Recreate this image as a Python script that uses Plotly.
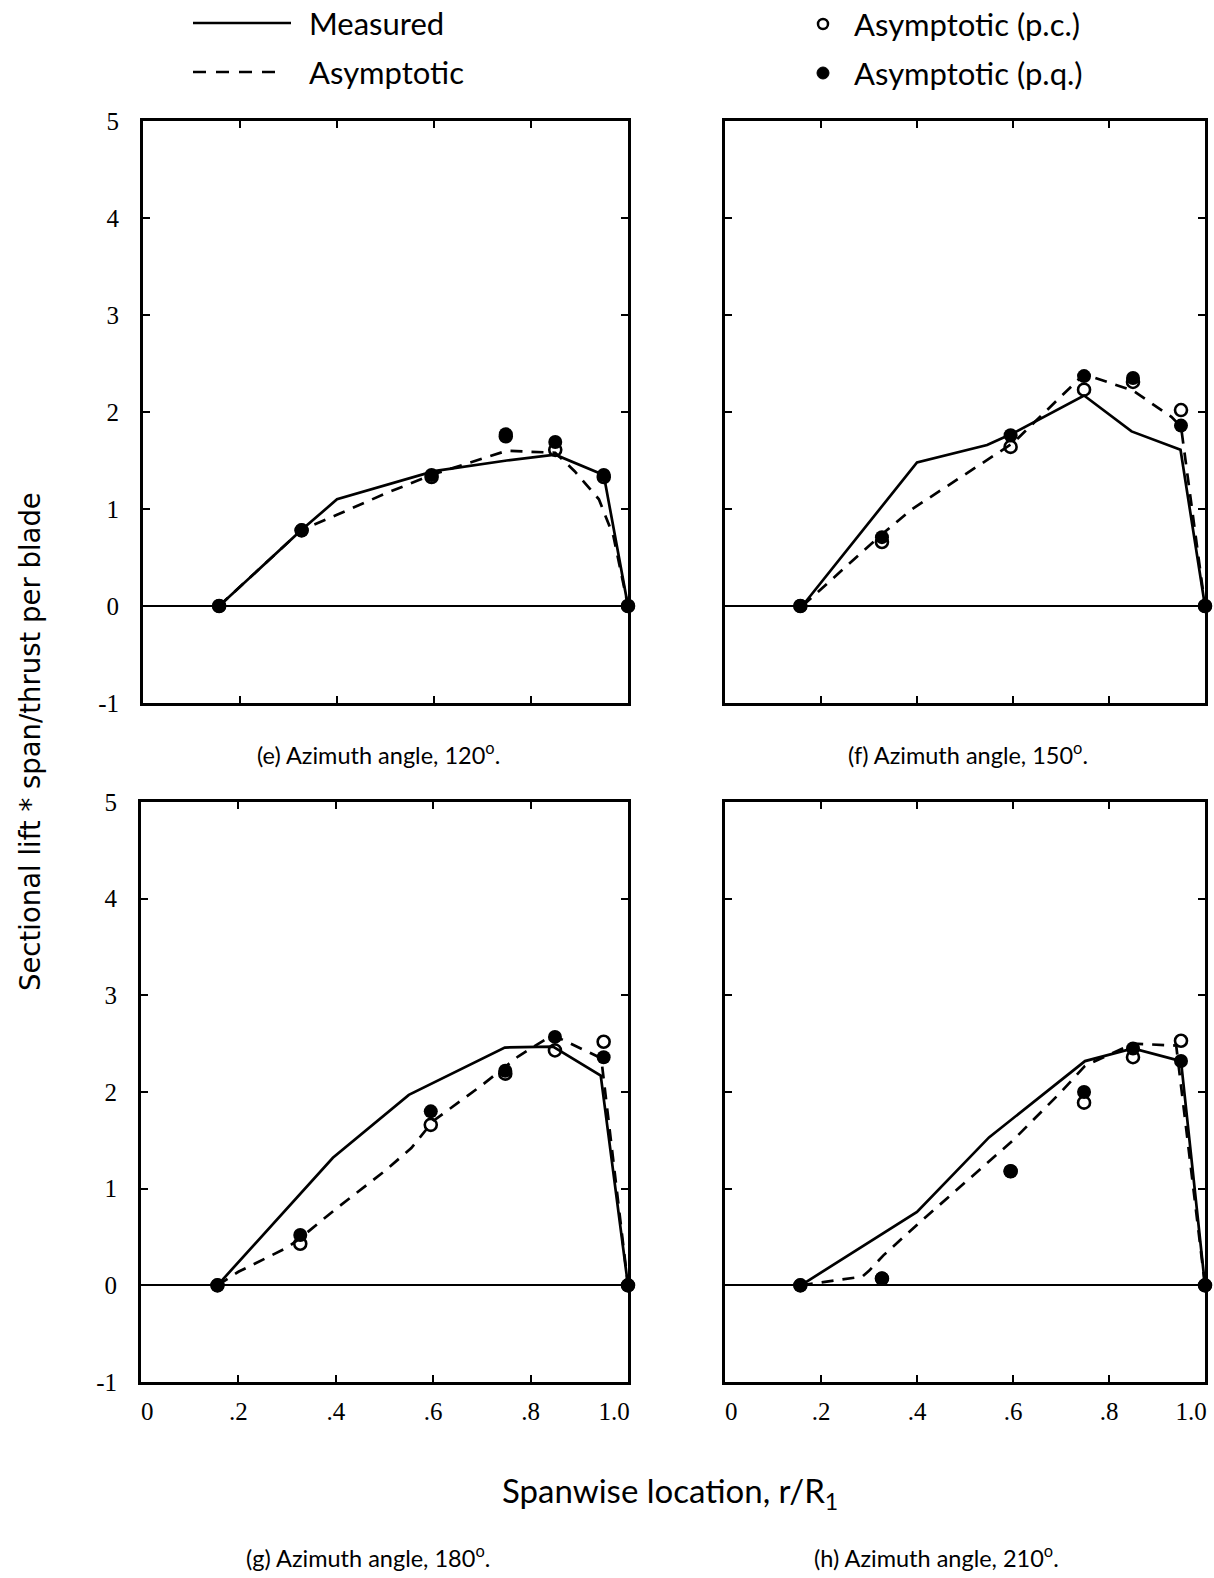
import plotly.graph_objects as go

W, H = 1214, 1578

# ---------------- data ----------------
stations = [0.157, 0.327, 0.595, 0.748, 0.850, 0.950, 1.0]

# (e) azimuth 120 deg
meas_x_120 = [0.157, 0.326, 0.40, 0.60, 0.75, 0.85, 0.95, 1.0]
meas_y_120 = [0.0, 0.78, 1.10, 1.39, 1.50, 1.56, 1.35, 0.0]
asym_x_120 = [0.157, 0.326, 0.40, 0.50, 0.60, 0.75, 0.85, 0.89, 0.94, 0.97, 1.0]
asym_y_120 = [0.0, 0.78, 0.94, 1.16, 1.36, 1.60, 1.58, 1.39, 1.10, 0.72, 0.0]
pc_y_120 = [0.0, 0.78, 1.33, 1.75, 1.61, 1.33, 0.0]
pq_y_120 = [0.0, 0.78, 1.35, 1.77, 1.69, 1.35, 0.0]

# (f) azimuth 150 deg
meas_x_150 = [0.161, 0.40, 0.546, 0.60, 0.748, 0.847, 0.949, 1.0]
meas_y_150 = [0.0, 1.48, 1.66, 1.78, 2.17, 1.80, 1.61, 0.0]
asym_x_150 = [0.161, 0.327, 0.39, 0.52, 0.60, 0.748, 0.85, 0.93, 0.95, 1.0]
asym_y_150 = [0.0, 0.74, 1.00, 1.42, 1.68, 2.39, 2.22, 1.95, 1.85, 0.0]
pc_y_150 = [0.0, 0.66, 1.64, 2.23, 2.31, 2.02, 0.0]
pq_y_150 = [0.0, 0.71, 1.76, 2.37, 2.35, 1.86, 0.0]

# (g) azimuth 180 deg
meas_x_180 = [0.157, 0.394, 0.55, 0.747, 0.846, 0.944, 1.0]
meas_y_180 = [0.0, 1.32, 1.97, 2.46, 2.47, 2.17, 0.0]
asym_x_180 = [0.157, 0.20, 0.30, 0.33, 0.40, 0.50, 0.555, 0.60, 0.70, 0.775, 0.845, 0.945, 1.0]
asym_y_180 = [0.0, 0.14, 0.39, 0.50, 0.79, 1.18, 1.42, 1.70, 2.07, 2.37, 2.59, 2.35, 0.0]
pc_y_180 = [0.0, 0.43, 1.66, 2.19, 2.43, 2.52, 0.0]
pq_y_180 = [0.0, 0.52, 1.80, 2.22, 2.57, 2.36, 0.0]

# (h) azimuth 210 deg
meas_x_210 = [0.158, 0.40, 0.55, 0.75, 0.85, 0.95, 1.0]
meas_y_210 = [0.0, 0.76, 1.53, 2.32, 2.45, 2.32, 0.0]
asym_x_210 = [0.158, 0.20, 0.286, 0.30, 0.33, 0.41, 0.50, 0.60, 0.70, 0.75, 0.85, 0.94, 1.0]
asym_y_210 = [0.0, 0.03, 0.09, 0.15, 0.31, 0.67, 1.06, 1.50, 2.00, 2.27, 2.50, 2.48, 0.0]
pc_y_210 = [0.0, 0.07, 1.18, 1.89, 2.36, 2.53, 0.0]
pq_y_210 = [0.0, 0.07, 1.18, 2.00, 2.45, 2.32, 0.0]

x_tickvals = [0, 0.2, 0.4, 0.6, 0.8, 1.0]
x_ticktext = ["\u00a0\u00a00", ".2", ".4", ".6", ".8", ""]
x_end_tickvals = [1.0]
x_end_ticktext = ["1.0"]
y_tickvals = [-1, 0, 1, 2, 3, 4, 5]
y_ticktext = ["-1", "0", "1", "2", "3", "4", "5"]

captions = ["(e) Azimuth angle, 120<sup>o</sup>.",
            "(f) Azimuth angle, 150<sup>o</sup>.",
            "(g) Azimuth angle, 180<sup>o</sup>.",
            "(h) Azimuth angle, 210<sup>o</sup>."]

# ---------------- layout helpers ----------------
def px(p):
    return p / W

def py(p):
    return 1 - p / H

TEXT_FONT = "Lato, sans-serif"
TICK_FONT = dict(family="Liberation Serif, serif", size=25, color="black")

panels = [
    dict(mx=meas_x_120, my=meas_y_120, ax=asym_x_120, ay=asym_y_120, pc=pc_y_120, pq=pq_y_120,
         xd=(143, 628), yd=(121, 703), xlab=False, ylab=True),
    dict(mx=meas_x_150, my=meas_y_150, ax=asym_x_150, ay=asym_y_150, pc=pc_y_150, pq=pq_y_150,
         xd=(725, 1205), yd=(121, 703), xlab=False, ylab=False),
    dict(mx=meas_x_180, my=meas_y_180, ax=asym_x_180, ay=asym_y_180, pc=pc_y_180, pq=pq_y_180,
         xd=(141, 628), yd=(802, 1382), xlab=True, ylab=True),
    dict(mx=meas_x_210, my=meas_y_210, ax=asym_x_210, ay=asym_y_210, pc=pc_y_210, pq=pq_y_210,
         xd=(725, 1205), yd=(802, 1382), xlab=True, ylab=False),
]

fig = go.Figure()
layout = {}

for i, p in enumerate(panels, start=1):
    xa = "x" if i == 1 else f"x{i}"
    ya = "y" if i == 1 else f"y{i}"
    fig.add_trace(go.Scatter(x=p["mx"], y=p["my"], mode="lines", xaxis=xa, yaxis=ya,
                             line=dict(color="black", width=2.7), showlegend=False))
    fig.add_trace(go.Scatter(x=p["ax"], y=p["ay"], mode="lines", xaxis=xa, yaxis=ya,
                             line=dict(color="black", width=2.7, dash="12px,9px"), showlegend=False))
    fig.add_trace(go.Scatter(x=stations, y=p["pc"], mode="markers", xaxis=xa, yaxis=ya,
                             cliponaxis=False,
                             marker=dict(symbol="circle-open", size=12, color="black",
                                         line=dict(width=2.6, color="black")),
                             showlegend=False))
    fig.add_trace(go.Scatter(x=stations, y=p["pq"], mode="markers", xaxis=xa, yaxis=ya,
                             cliponaxis=False,
                             marker=dict(symbol="circle", size=14, color="black"),
                             showlegend=False))

    xkey = "xaxis" if i == 1 else f"xaxis{i}"
    ykey = "yaxis" if i == 1 else f"yaxis{i}"
    layout[xkey] = dict(domain=[px(p["xd"][0]), px(p["xd"][1])], anchor=ya,
                        range=[0, 1.0], tickvals=x_tickvals, ticktext=x_ticktext,
                        showticklabels=p["xlab"], ticks="inside", ticklen=7, tickwidth=2,
                        tickcolor="black", showline=True, linewidth=3, linecolor="black",
                        mirror="ticks", showgrid=False, zeroline=False, automargin=False,
                        ticklabeloverflow="allow",
                        tickfont=TICK_FONT, ticklabelstandoff=5)
    layout[ykey] = dict(domain=[py(p["yd"][1]), py(p["yd"][0])], anchor=xa,
                        range=[-1, 5], tickvals=y_tickvals, ticktext=y_ticktext,
                        showticklabels=p["ylab"], ticks="inside", ticklen=7, tickwidth=2,
                        tickcolor="black", showline=True, linewidth=3, linecolor="black",
                        mirror="ticks", showgrid=False, zeroline=True, zerolinecolor="black",
                        zerolinewidth=2, automargin=False, ticklabeloverflow="allow",
                        tickfont=TICK_FONT, ticklabelstandoff=16)

# overlay axes carrying only the "1.0" label of the bottom panels (set slightly left, as printed)
for j, (base, yb) in enumerate([("x3", "y3"), ("x4", "y4")], start=5):
    fig.add_trace(go.Scatter(x=[], y=[], xaxis=f"x{j}", yaxis=yb, showlegend=False,
                             hoverinfo="skip"))
    layout[f"xaxis{j}"] = dict(overlaying=base, anchor=yb, side="bottom", matches=base,
                               range=[0, 1.0], tickvals=x_end_tickvals, ticktext=x_end_ticktext,
                               ticks="", showline=False, showgrid=False, zeroline=False,
                               automargin=False, tickfont=TICK_FONT, ticklabelstandoff=12,
                               ticklabelshift=-14)

annotations = []
# panel captions
cap_pos = [(378, 753), (968, 753), (368, 1556), (936, 1556)]
for text, (cx, cy) in zip(captions, cap_pos):
    annotations.append(dict(text=text, x=px(cx), y=py(cy), xref="paper", yref="paper",
                            showarrow=False, xanchor="center", yanchor="middle",
                            font=dict(family=TEXT_FONT, size=23.5, color="black")))

# axis titles
annotations.append(dict(text="Spanwise location, r/R<sub>1</sub>", x=px(670), y=py(1492),
                        xref="paper", yref="paper", showarrow=False, xanchor="center",
                        yanchor="middle", font=dict(family=TEXT_FONT, size=33, color="black")))
annotations.append(dict(text="Sectional lift * span/thrust per blade", x=px(30), y=py(742),
                        xref="paper", yref="paper", showarrow=False, textangle=-90,
                        xanchor="center", yanchor="middle",
                        font=dict(family="DejaVu Sans, sans-serif", size=27.5, color="black")))

# legend text
legend_items = [("Measured", 307, 23), ("Asymptotic", 307, 72),
                ("Asymptotic (p.c.)", 852, 24), ("Asymptotic (p.q.)", 852, 73)]
for text, lx, ly in legend_items:
    annotations.append(dict(text=text, x=px(lx), y=py(ly), xref="paper", yref="paper",
                            showarrow=False, xanchor="left", yanchor="middle",
                            font=dict(family=TEXT_FONT, size=31, color="black")))

shapes = [
    dict(type="line", xref="paper", yref="paper", x0=px(193), x1=px(291), y0=py(23), y1=py(23),
         line=dict(color="black", width=2.6)),
    dict(type="line", xref="paper", yref="paper", x0=px(193), x1=px(280), y0=py(72), y1=py(72),
         line=dict(color="black", width=2.6, dash="13px,10px")),
    dict(type="circle", xref="paper", yref="paper", xsizemode="pixel", ysizemode="pixel",
         xanchor=px(823), yanchor=py(24), x0=-5, x1=5, y0=-5, y1=5,
         line=dict(color="black", width=2.5), fillcolor="white"),
    dict(type="circle", xref="paper", yref="paper", xsizemode="pixel", ysizemode="pixel",
         xanchor=px(823), yanchor=py(73), x0=-6, x1=6, y0=-6, y1=6,
         line=dict(color="black", width=1), fillcolor="black"),
]

fig.update_layout(width=W, height=H, margin=dict(l=0, r=0, t=0, b=0, autoexpand=False),
                  paper_bgcolor="white", plot_bgcolor="white",
                  annotations=annotations, shapes=shapes, **layout)

fig.write_html("out.html",
               post_script="document.body.style.margin='0';document.body.style.padding='0';"
                           "document.documentElement.style.margin='0';")
